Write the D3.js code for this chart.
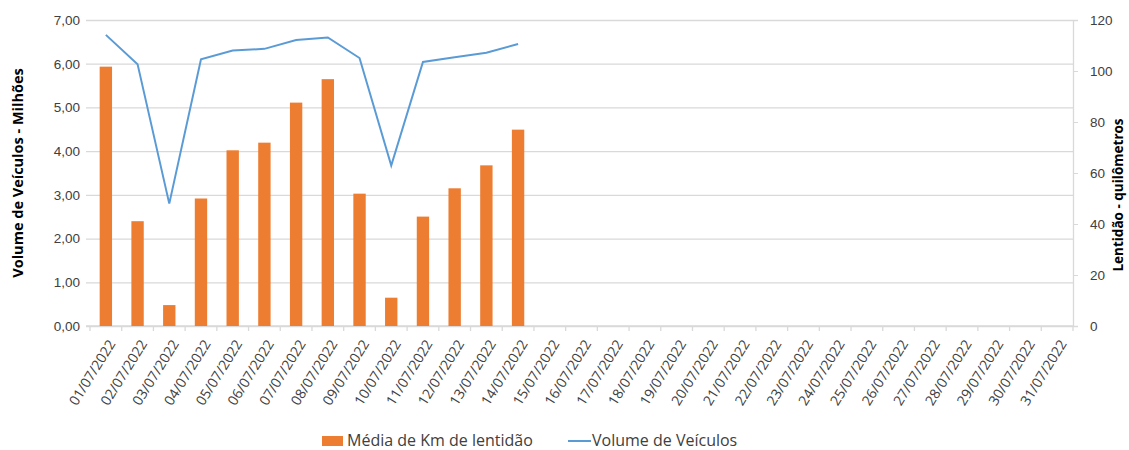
<!DOCTYPE html>
<html>
<head>
<meta charset="utf-8">
<script src="https://cdn.jsdelivr.net/npm/d3@7"></script>
<style>
  body { margin: 0; background: #fff; }
  svg { display: block; font-family: "Open Sans", "Noto Sans", sans-serif; }
</style>
</head>
<body>
<div id="chart"></div>
<script>
// Days of July 2022
const dates = d3.range(1, 32).map(d => String(d).padStart(2, '0') + '/07/2022');

// Média de Km de lentidão (right axis, km) - only first 14 days have data
const lentidaoKm = [101.7, 41.1, 8.2, 50.0, 68.9, 71.9, 87.6, 96.8, 51.9, 11.1, 42.9, 54.0, 63.0, 77.0];

// Volume de Veículos (left axis, millions)
const volumeMilhoes = [6.66, 5.99, 2.80, 6.10, 6.30, 6.34, 6.54, 6.60, 6.13, 3.67, 6.04, 6.15, 6.25, 6.45];

const leftTicks = [0, 1, 2, 3, 4, 5, 6, 7];
const rightTicks = [0, 20, 40, 60, 80, 100, 120];

const width = 1129, height = 450;
const margin = { top: 20, right: 56, bottom: 124, left: 90 };
const chartWidth = width - margin.left - margin.right;
const chartHeight = height - margin.top - margin.bottom;

const svg = d3.select('#chart').append('svg')
    .attr('width', width)
    .attr('height', height);

const g = svg.append('g')
    .attr('transform', `translate(${margin.left},${margin.top})`);

const x = d3.scaleBand().domain(dates).range([0, chartWidth]).paddingInner(0.61).paddingOuter(0.305);
const xc = d3.scaleBand().domain(dates).range([0, chartWidth]);
const yLeft = d3.scaleLinear().domain([0, 7]).range([chartHeight, 0]);
const yRight = d3.scaleLinear().domain([0, 120]).range([chartHeight, 0]);

// Gridlines
g.append('g')
    .call(d3.axisLeft(yLeft).tickValues(leftTicks).tickSize(-chartWidth - 4).tickFormat(''))
    .attr('transform', 'translate(-4,0)')
    .call(s => s.select('.domain').remove())
    .call(s => s.selectAll('line').attr('stroke', '#d9d9d9').attr('stroke-width', 1.3));

// Left axis labels
g.append('g')
    .call(d3.axisLeft(yLeft).tickValues(leftTicks).tickSize(0).tickPadding(10)
        .tickFormat(d => d3.format('.2f')(d).replace('.', ',')))
    .call(s => s.select('.domain').remove())
    .call(s => s.selectAll('text').attr('fill', '#404040').attr('font-size', '13.5px'));

// Right axis
g.append('g')
    .attr('transform', `translate(${chartWidth},0)`)
    .call(d3.axisRight(yRight).tickValues(rightTicks).tickSize(5).tickPadding(12))
    .call(s => s.select('.domain').attr('stroke', '#d9d9d9').attr('stroke-width', 1.3))
    .call(s => s.selectAll('line').attr('stroke', '#d9d9d9'))
    .call(s => s.selectAll('text').attr('fill', '#404040').attr('font-size', '13.5px'));

// Bottom axis with ticks between categories
const xAxis = g.append('g')
    .attr('transform', `translate(0,${chartHeight})`);
xAxis.append('line')
    .attr('x1', -4).attr('x2', chartWidth)
    .attr('stroke', '#d9d9d9').attr('stroke-width', 1.3);
xAxis.selectAll('.tick-mark')
    .data(dates.concat(['end']))
    .enter().append('line')
    .attr('x1', (d, i) => i * xc.step())
    .attr('x2', (d, i) => i * xc.step())
    .attr('y1', 0).attr('y2', 5)
    .attr('stroke', '#d9d9d9').attr('stroke-width', 1.3);
xAxis.selectAll('.xlabel')
    .data(dates)
    .enter().append('text')
    .attr('transform', d => `translate(${xc(d) + xc.bandwidth() / 2 + 6},${15}) rotate(-58)`)
    .attr('text-anchor', 'end')
    .attr('dy', '0.35em')
    .attr('fill', '#404040')
    .attr('font-size', '14px')
    .text(d => d);

// Bars
g.selectAll('.bar')
    .data(lentidaoKm)
    .enter().append('rect')
    .attr('x', (d, i) => x(dates[i]))
    .attr('y', d => yRight(d))
    .attr('width', x.bandwidth())
    .attr('height', d => chartHeight - yRight(d))
    .attr('fill', '#ed7d31');

// Line
const line = d3.line()
    .x((d, i) => xc(dates[i]) + xc.bandwidth() / 2)
    .y(d => yLeft(d));
g.append('path')
    .datum(volumeMilhoes)
    .attr('d', line)
    .attr('fill', 'none')
    .attr('stroke', '#5b9bd5')
    .attr('stroke-width', 2);

// Axis titles
svg.append('text')
    .attr('transform', `translate(23,${margin.top + chartHeight / 2}) rotate(-90)`)
    .attr('text-anchor', 'middle')
    .attr('font-size', '14.5px')
    .attr('font-weight', 'bold')
    .attr('fill', '#000')
    .text('Volume de Veículos  - Milhões');

svg.append('text')
    .attr('transform', `translate(1123,${margin.top + chartHeight / 2 + 22}) rotate(-90)`)
    .attr('text-anchor', 'middle')
    .attr('font-size', '13.5px')
    .attr('font-weight', 'bold')
    .attr('fill', '#000')
    .text('Lentidão - quilômetros');

// Legend
const legend = svg.append('g').attr('transform', 'translate(322,441)');
legend.append('rect').attr('x', 0).attr('y', -5).attr('width', 21).attr('height', 10).attr('fill', '#ed7d31');
legend.append('text').attr('x', 25).attr('y', 5).attr('font-size', '16px').attr('fill', '#404040')
    .text('Média de Km de lentidão');
legend.append('line').attr('x1', 246).attr('x2', 269).attr('y1', 0).attr('y2', 0)
    .attr('stroke', '#5b9bd5').attr('stroke-width', 2);
legend.append('text').attr('x', 270).attr('y', 5).attr('font-size', '16px').attr('fill', '#404040')
    .text('Volume de Veículos');
</script>
</body>
</html>
